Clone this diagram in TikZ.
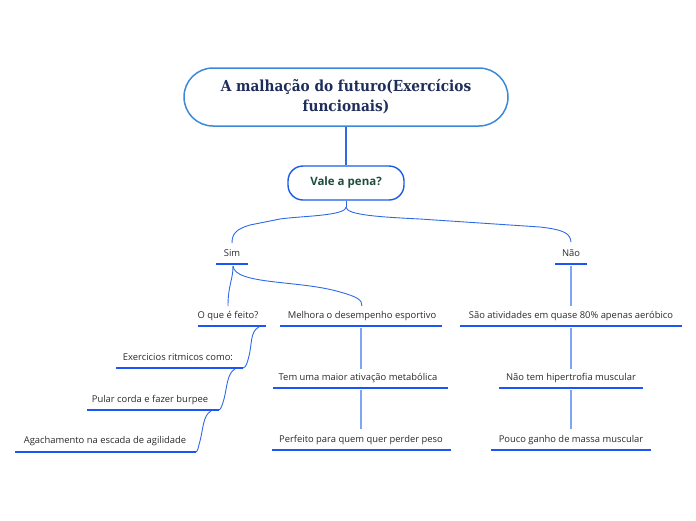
\documentclass[tikz,border=0pt]{standalone}
\usepackage{fontspec}
\setmainfont{Open Sans}
\newfontfamily\titlefont{DejaVu Serif Condensed}
\definecolor{rootb}{HTML}{3B8AD9}
\definecolor{roott}{HTML}{1F2D5A}
\definecolor{valeb}{HTML}{1A5AE6}
\definecolor{valet}{HTML}{1D4D3C}
\definecolor{uline}{HTML}{1B55F5}
\definecolor{conn}{HTML}{2F6AE6}
\definecolor{vconn}{HTML}{7FA6F2}
\definecolor{txt}{HTML}{2A2A2A}
\tikzset{
  lbl/.style={font=\fontsize{9.4}{11}\selectfont, text=txt, inner sep=0pt, anchor=base},
  ul/.style={draw=uline, line width=2.8pt},
  cn/.style={draw=conn, line width=0.9pt},
  vc/.style={draw=vconn, line width=1.1pt},
}
\begin{document}
\begin{tikzpicture}[x=1pt,y=-1pt]
\useasboundingbox (0,0) rectangle (696,520);
% root
\node[draw=rootb, line width=1.5pt, rounded corners=29pt, minimum width=324pt, minimum height=58pt, text=roott,
  font=\titlefont\bfseries\fontsize{15.2}{20}\selectfont, align=center] (root) at (346,97)
  {A malhação do futuro(Exercícios\\funcionais)};
\node[draw=valeb, line width=1.4pt, rounded corners=15pt, minimum width=116pt, minimum height=34pt, text=valet,
  font=\fontsize{11.5}{13}\selectfont\bfseries] (vale) at (346,183) {Vale a pena?};
\draw[cn, line width=1.3pt] (root.south) -- (vale.north);
% labels
\node[lbl] (sim) at (232,256) {Sim};
\node[lbl] (nao) at (571,256) {Não};
\node[lbl] (oque) at (228,318) {O que é feito?};
\node[lbl] (melh) at (362,318) {Melhora o desempenho esportivo};
\node[lbl] (exer) at (178,360) {Exercicios ritmicos como:};
\node[lbl] (pular) at (150,402) {Pular corda e fazer burpee};
\node[lbl] (agach) at (105,443) {Agachamento na escada de agilidade};
\node[lbl] (tem) at (358,380) {Tem uma maior ativação metabólica};
\node[lbl] (perf) at (361,442) {Perfeito para quem quer perder peso};
\node[lbl] (sao) at (571,318) {São atividades em quase 80\% apenas aeróbico};
\node[lbl] (naot) at (571,380) {Não tem hipertrofia muscular};
\node[lbl] (pouco) at (571,442) {Pouco ganho de massa muscular};
% underline coordinates
\coordinate (simA) at (216,264); \coordinate (simB) at (248,264);
\coordinate (naoA) at (555,264); \coordinate (naoB) at (587,264);
\coordinate (oqueA) at (198,326); \coordinate (oqueB) at (266,326);
\coordinate (melhA) at (280,326); \coordinate (melhB) at (442,326);
\coordinate (exerA) at (116,368); \coordinate (exerB) at (243,368);
\coordinate (pularA) at (87,410); \coordinate (pularB) at (219,410);
\coordinate (agachA) at (15,452); \coordinate (agachB) at (196,452);
\coordinate (temA) at (273,388); \coordinate (temB) at (448,388);
\coordinate (perfA) at (272,450); \coordinate (perfB) at (451,450);
\coordinate (saoA) at (460,326); \coordinate (saoB) at (682,326);
\coordinate (naotA) at (499,388); \coordinate (naotB) at (643,388);
\coordinate (poucoA) at (491,450); \coordinate (poucoB) at (651,450);
\foreach \n in {sim,nao,oque,melh,exer,pular,agach,tem,perf,sao,naot,pouco}
  \draw[ul] (\n A) -- (\n B);
% connectors from Vale
\coordinate (vb) at (346,207);
\draw[cn] (vale.south) -- (vb);
\draw[cn] (vb) .. controls (346,216) and (300,216) .. (280,219) -- (250,225) .. controls (236,229) and (232,234) .. (232,243);
\draw[cn] (vb) .. controls (346,215) and (380,217) .. (420,219) -- (540,227) .. controls (566,230) and (570,234) .. (571,242);
% Sim children
\coordinate (simC) at (233,266);
\draw[cn] (simC) .. controls (233,280) and (228,285) .. (228,306);
\draw[cn] (simC) .. controls (235,285) and (300,280) .. (340,292) .. controls (358,297) and (362,300) .. (362,306);
% chain of O que e feito
\draw[cn] (259,327) .. controls (250,331) and (252,345) .. (249,356) .. controls (247,364) and (246,367) .. (243,368);
\draw[cn] (235,369) .. controls (227,373) and (227,388) .. (224,399) .. controls (222,406) and (221,409) .. (219,410);
\draw[cn] (211,411) .. controls (203,415) and (203,430) .. (200,441) .. controls (198,448) and (198,451) .. (196,452);
% vertical connectors
\draw[vc] (361,328) -- (361,369);
\draw[vc] (361,390) -- (361,429);
\draw[vc] (571,266) -- (571,306);
\draw[vc] (571,328) -- (571,369);
\draw[vc] (571,390) -- (571,429);
\end{tikzpicture}
\end{document}
